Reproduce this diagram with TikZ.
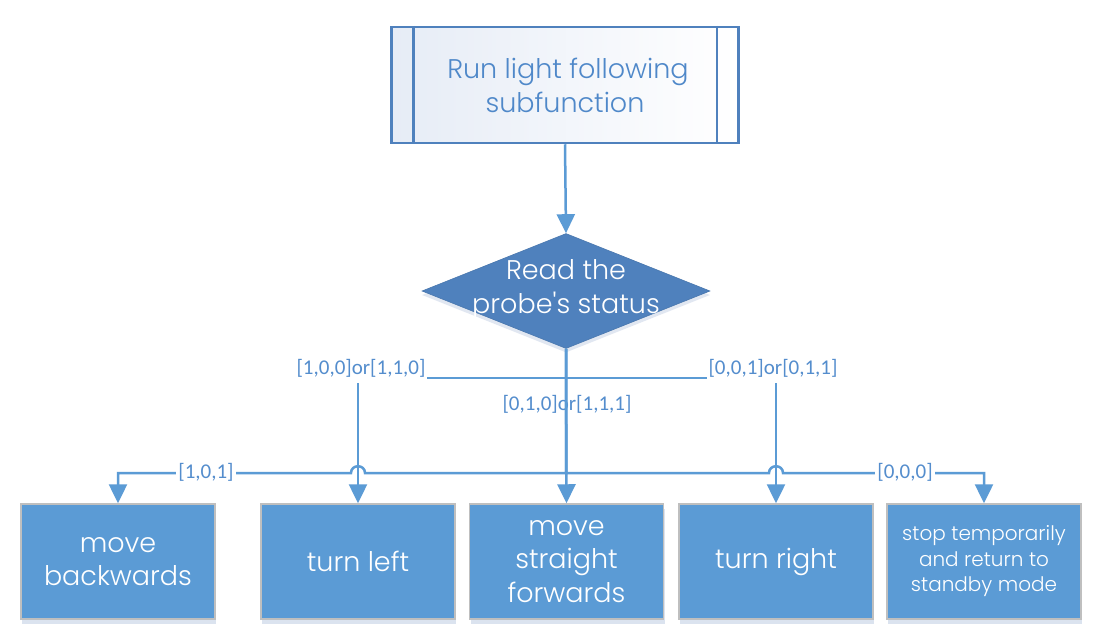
\documentclass[tikz,border=0pt]{standalone}
\usepackage{fontspec}
\setmainfont{Poppins}[UprightFont=* Light,Ligatures=TeXOff]
\newfontfamily\labfont{Carlito}
\usetikzlibrary{shapes.geometric,arrows.meta,calc,shadows}
\definecolor{lineblue}{RGB}{91,155,213}
\definecolor{boxblue}{RGB}{91,155,213}
\definecolor{decblue}{RGB}{79,129,189}
\definecolor{txtblue}{RGB}{79,136,201}
\definecolor{labblue}{RGB}{84,141,205}
\definecolor{boxedge}{RGB}{191,191,191}
\definecolor{shadec}{RGB}{230,236,246}
\definecolor{shadowc}{RGB}{205,216,233}
\begin{document}
\begin{tikzpicture}[x=1pt,y=-1pt,
  conn/.style={draw=lineblue,line width=2.5pt,-{Triangle[length=19pt,width=18pt]}},
  actbox/.style={rectangle,fill=boxblue,draw=boxedge,line width=1.5pt,
    minimum width=194pt,minimum height=115pt,inner sep=0pt,text=white,align=center,
    font=\fontsize{27}{33.5}\selectfont,
    drop shadow={shadow xshift=1pt,shadow yshift=-5pt,fill=shadowc,opacity=0.7}},
  smallbox/.style={actbox,font=\fontsize{20}{25.5}\selectfont},
  subbox/.style={rectangle,draw=decblue,line width=2.5pt,left color=shadec,right color=white,
    minimum width=347pt,minimum height=116pt,inner sep=0pt,text=txtblue,align=center,
    font=\fontsize{27}{34}\selectfont},
  subline/.style={draw=decblue,line width=2.5pt},
  dec/.style={diamond,fill=decblue,draw=decblue!92!black,line width=0.6pt,
    minimum width=288pt,minimum height=115pt,inner sep=0pt,
    drop shadow={shadow xshift=0pt,shadow yshift=-4pt,fill=shadowc,opacity=0.6}},
  dectext/.style={text=white,align=center,inner sep=0pt,font=\fontsize{27}{34}\selectfont},
  lab/.style={text=labblue,inner xsep=2pt,inner ysep=6pt,font=\labfont\fontsize{21}{24}\selectfont},
  labw/.style={lab,fill=white}
]
\fill[white] (0,0) rectangle (1101,643);
\useasboundingbox (0,0) rectangle (1101,643);

\coordinate (yA) at (0,378);
\coordinate (yB) at (0,473);

% nodes
\node[subbox] (top) at (565,85) {\hspace*{6pt}Run light following\\subfunction};
\draw[subline] ([xshift=23pt]top.north west) -- ([xshift=23pt]top.south west);
\draw[subline] ([xshift=-23pt]top.north east) -- ([xshift=-23pt]top.south east);

\node[dec] (d) at (566,291) {};
\node[dectext] (dt) at (566,290) {Read the\\probe's status};

\node[actbox] (b1) at (118,561.5) {move\\backwards};
\node[actbox] (b2) at (358,561.5) {turn left};
\node[actbox] (b3) at (566.5,561.5) {move\\straight\\forwards};
\node[actbox] (b4) at (776,561.5) {turn right};
\node[smallbox] (b5) at (984,561.5) {stop temporarily\\and return to\\standby mode};

% label under the line
\node[lab] (l3) at (567,404) {[0,1,0]or[1,1,1]};

% connectors
\draw[conn] (top.south) -- (d.north);
\draw[conn] (d.south) -- (b3.north);
\draw[conn] (d.south) |- (b2.north |- yA) -- (b2.north);
\draw[conn] (d.south) |- (b4.north |- yA) -- (b4.north);
\draw[conn] (d.south) -- (d.south |- yB)
  -- ($(b2.north |- yB)+(7,0)$)
  .. controls ($(b2.north |- yB)+(7,-9)$) and ($(b2.north |- yB)+(-7,-9)$) .. ($(b2.north |- yB)+(-7,0)$)
  -- (b1.north |- yB) -- (b1.north);
\draw[conn] (d.south) -- (d.south |- yB)
  -- ($(b4.north |- yB)+(-7,0)$)
  .. controls ($(b4.north |- yB)+(-7,-9)$) and ($(b4.north |- yB)+(7,-9)$) .. ($(b4.north |- yB)+(7,0)$)
  -- (b5.north |- yB) -- (b5.north);

% labels over the lines
\node[labw] (l1) at (361,368) {[1,0,0]or[1,1,0]};
\node[labw] (l2) at (773,368) {[0,0,1]or[0,1,1]};
\node[labw] (l4) at (206,472) {[1,0,1]};
\node[labw] (l5) at (905,472) {[0,0,0]};
\end{tikzpicture}
\end{document}
